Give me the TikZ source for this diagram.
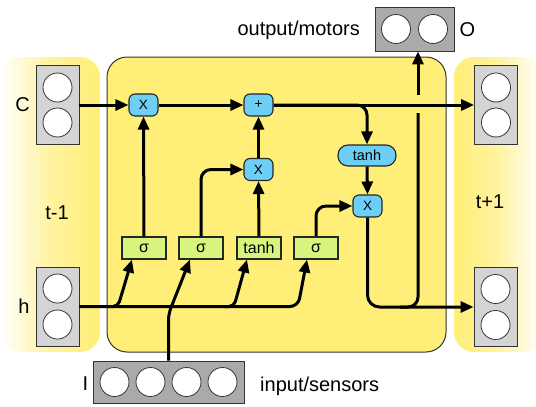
\documentclass[tikz,border=0pt]{standalone}
\usepackage{fontspec}
\setmainfont{Liberation Sans}
\usetikzlibrary{arrows.meta,calc}
\definecolor{ly}{HTML}{FFEE77}
\definecolor{bl}{HTML}{6DCFF6}
\definecolor{gr}{HTML}{D6F47E}
\definecolor{lg}{HTML}{D4D4D4}
\definecolor{dg}{HTML}{AAAAAA}
\begin{document}
\begin{tikzpicture}[x=1pt,y=-1pt,
  conn/.style={line width=3pt},
  arr/.style={conn, -{Triangle[length=13pt,width=11pt]}},
  bnode/.style={draw=black!85, fill=bl, rounded corners=6pt, minimum width=29pt, minimum height=22pt, inner sep=0pt, line width=1.1pt, font=\fontsize{13.5}{13.5}\selectfont},
  gnode/.style={draw=black!85, fill=gr, minimum width=44pt, minimum height=22pt, inner sep=0pt, line width=1.1pt, font=\fontsize{16}{16}\selectfont},
  cell/.style={circle, draw=black!80, fill=white, minimum size=29pt, inner sep=0pt, line width=0.8pt},
  vbox/.style={draw=black!80, fill=lg, minimum width=43pt, minimum height=79pt, inner sep=0pt, line width=0.8pt},
  lbl/.style={font=\fontsize{20}{20}\selectfont, inner sep=0pt},
]
\useasboundingbox (0,0) rectangle (536,407);
\fill[white] (0,0) rectangle (536,407);
\begin{scope}
\clip (0,0) rectangle (536,407);
\shade[left color=white, right color=ly, middle color=ly!70, rounded corners=20pt] (0,57) rectangle (100,352);
\shade[left color=ly, right color=white, middle color=ly!70, rounded corners=20pt] (454,57) rectangle (542,352);
\end{scope}
\draw[fill=ly, draw=black!80, line width=1pt, rounded corners=20pt] (107,57) rectangle (446,352);

% memory boxes
\node[vbox] (Cprev) at (57.5,105) {};
\node[cell] (Cprev1) at (57.5,87.5) {};
\node[cell] (Cprev2) at (57.5,122.5) {};
\node[vbox] (hprev) at (57.5,306.5) {};
\node[cell] (hprev1) at (57.5,288.5) {};
\node[cell] (hprev2) at (57.5,324.5) {};
\node[vbox] (Cnext) at (496,105) {};
\node[cell] (Cnext1) at (496,87.5) {};
\node[cell] (Cnext2) at (496,122.5) {};
\node[vbox] (hnext) at (495.5,307) {};
\node[cell] (hnext1) at (495.5,289) {};
\node[cell] (hnext2) at (495.5,325) {};
\node[draw=black!80, fill=dg, minimum width=79pt, minimum height=44pt, inner sep=0pt, line width=0.8pt] (Obox) at (414.5,29) {};
\node[cell] (O1) at (396,29) {};
\node[cell] (O2) at (433,29) {};
\node[draw=black!80, fill=dg, minimum width=151pt, minimum height=42pt, inner sep=0pt, line width=0.8pt] (Ibox) at (168.5,382) {};
\node[cell] (I1) at (114.5,382) {};
\node[cell] (I2) at (150.5,382) {};
\node[cell] (I3) at (186.5,382) {};
\node[cell] (I4) at (222.5,382) {};

% labels
\node[lbl] (lC) at (22.5,105) {C};
\node[lbl] (lh) at (24,306) {h};
\node[lbl] (ltm) at (57,213) {t-1};
\node[lbl] (ltp) at (490,202) {t+1};
\node[lbl] (lO) at (467.5,30) {O};
\node[lbl, anchor=base east] (lout) at (360,35.5) {output/motors};
\node[lbl] (lI) at (85.5,384) {I};
\node[lbl, anchor=base west] (lin) at (260,391) {input/sensors};

% operation nodes
\node[bnode] (X1) at (143.5,105) {X};
\node[bnode] (plus) at (258.5,105) {+};
\node[bnode] (X2) at (258.5,169.5) {X};
\node[bnode, minimum width=58pt, minimum height=21pt, rounded corners=10pt, font=\fontsize{14.5}{14.5}\selectfont] (tanhb) at (367,155.5) {tanh};
\node[bnode] (X3) at (367.5,206) {X};

% gates
\node[gnode] (s1) at (144,248) {σ};
\node[gnode] (s2) at (201,248) {σ};
\node[gnode] (tg) at (259,248) {tanh};
\node[gnode] (s3) at (316,248) {σ};

% coordinates
\coordinate (ob) at (400,307);
\coordinate (hopLow) at (418,113);
\coordinate (hopHigh) at (418,95);
\coordinate (hbend) at (298,306.5);
\coordinate (b1a) at (108,306.5);
\coordinate (b1) at (118,306.5);
\coordinate (b3a) at (224,306.5);
\coordinate (b3) at (234,306.5);
\coordinate (ibend) at (168.5,314);

% cell state path
\draw[arr] (Cprev.east) -- (X1.west);
\draw[arr] (X1.east) -- (plus.west);
\draw[arr] (plus.east) -- (Cnext.west);
\draw[arr, rounded corners=10pt] (plus.east) -| (tanhb.north);
\draw[arr] (tanhb.south) -- (X3.north);
\draw[arr, rounded corners=12pt] (X3.south) |- (hnext.west);
\draw[conn, rounded corners=10pt] (ob) -| (hopLow);
\draw[arr] (hopHigh) -- (hopHigh |- Obox.south);

% gates to operations
\draw[arr] (s1.north) -- (X1.south);
\draw[arr, rounded corners=10pt] (s2.north) |- (X2.west);
\draw[arr] (tg.north) -- (X2.south);
\draw[arr] (X2.north) -- (plus.south);
\draw[arr, rounded corners=10pt] (s3.north) |- (X3.west);

% inputs to gates
\draw[arr, rounded corners=8pt] (hprev.east) -- (hbend) -- ([xshift=-9pt]s3.south);
\draw[arr, rounded corners=5pt] (b1a) -- (b1) -- ([xshift=-12pt]s1.south);
\draw[arr, rounded corners=6pt] (Ibox.north) -- (ibend) -- ([xshift=-11pt]s2.south);
\draw[arr, rounded corners=5pt] (b3a) -- (b3) -- ([xshift=-12pt]tg.south);
\end{tikzpicture}
\end{document}
